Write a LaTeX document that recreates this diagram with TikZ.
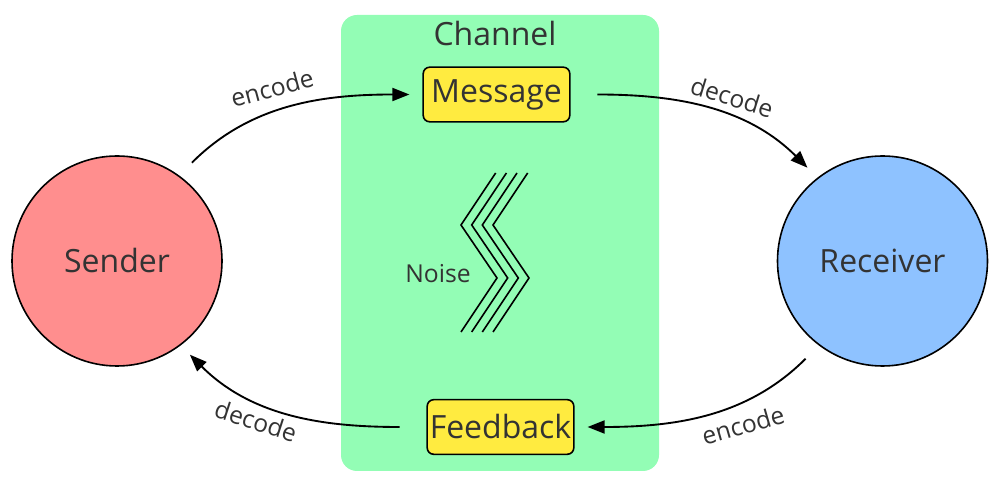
\documentclass[tikz,border=0pt]{standalone}
\usepackage{fontspec}
\setmainfont{Open Sans}
\usetikzlibrary{arrows.meta}
\definecolor{chgreen}{RGB}{147,253,181}
\definecolor{msgyellow}{RGB}{255,235,64}
\definecolor{sendred}{RGB}{255,142,142}
\definecolor{recblue}{RGB}{142,194,255}
\definecolor{txt}{RGB}{51,51,51}
\tikzset{
  party/.style={circle, draw=black, line width=1.2pt, minimum size=157.5pt, inner sep=0pt, text=txt, font=\fontsize{24}{28}\selectfont},
  box/.style={draw=black, line width=1.2pt, rounded corners=5pt, fill=msgyellow, minimum height=41pt, minimum width=110pt, inner sep=0pt, text=txt, font=\fontsize{24}{28}\selectfont},
  lbl/.style={text=txt, font=\fontsize{18.5}{22}\selectfont, inner sep=0pt},
  arr/.style={-{Triangle[length=12.75pt, width=9.75pt]}, line width=1.4pt, black},
  zig/.style={line width=1.2pt, black}
}
\begin{document}
\begin{tikzpicture}[x=0.75pt, y=0.75pt]
\useasboundingbox (0,0) rectangle (1000,492);
\fill[chgreen, rounded corners=12pt] (341,21) rectangle (659,477);
\node[text=txt, font=\fontsize{24}{28}\selectfont, inner sep=0pt] (chan) at (495,458) {Channel};
\node[box] (msg) at (496.5,397.5) {Message};
\node[box] (fb) at (500.5,65) {Feedback};
\node[party, fill=sendred] (sender) at (117,231) {Sender};
\node[party, fill=recblue] (receiver) at (882.5,231) {Receiver};
\node[lbl] (noise) at (438,218) {Noise};
\foreach \d in {0,10.7,21.3,32}{
  \draw[zig] (495.7+\d,319) -- (461+\d,267) -- (497+\d,214) -- (461+\d,160);
}
\draw[arr, shorten <=13.5pt, shorten >=9.75pt] (sender.54) to[out=45, in=180] (msg.west);
\draw[arr, shorten <=20pt, shorten >=10.5pt] (msg.east) to[out=0, in=135] (receiver.128);
\draw[arr, shorten <=14pt, shorten >=9.75pt] (receiver.233) to[out=225, in=0] (fb.east);
\draw[arr, shorten <=20pt, shorten >=9.75pt] (fb.west) to[out=180, in=-45] (sender.307);
\node[lbl, rotate=15] (l1) at (272,404) {encode};
\node[lbl, rotate=-17] (l2) at (732,395) {decode};
\node[lbl, rotate=16] (l3) at (743,67) {encode};
\node[lbl, rotate=-18] (l4) at (256,71) {decode};
\end{tikzpicture}
\end{document}
